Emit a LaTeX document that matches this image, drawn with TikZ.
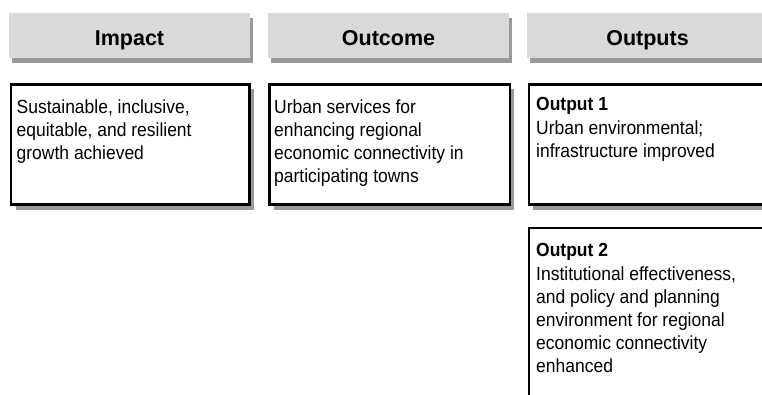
\documentclass[tikz,border=0pt]{standalone}
\usepackage{fontspec}
\setmainfont{Liberation Sans}
\newfontfamily\narrowsf[FakeStretch=0.92]{Liberation Sans}
\usetikzlibrary{shadows}
\definecolor{hdrgray}{HTML}{D9D9D9}

\begin{document}
\begin{tikzpicture}[x=1pt, y=-1pt,
    hdr/.style={fill=hdrgray, inner sep=0pt, outer sep=0pt, anchor=north west,
        minimum width=241pt, minimum height=45pt,
        drop shadow={shadow xshift=3pt, shadow yshift=-4.5pt, fill=black!40, opacity=1}},
    hdrlabel/.style={anchor=base, inner sep=0pt, font=\fontsize{21.5}{25}\selectfont\bfseries},
    cbox/.style={draw, line width=2.5pt, fill=white, inner sep=0pt, outer sep=0pt, anchor=north west,
        drop shadow={shadow xshift=4.5pt, shadow yshift=-5pt, fill=black!40, opacity=1}},
    ctext/.style={anchor=north west, inner sep=0pt, align=left,
        font=\narrowsf\fontsize{19}{23}\selectfont}]
    \useasboundingbox (0,0) rectangle (762,394);
    \clip (0,0) rectangle (762,394);

    % column heads
    \node[hdr] (impacthdr) at (9,13) {};
    \node[hdr] (outcomehdr) at (268,13) {};
    \node[hdr] (outputshdr) at (527,13) {};
    \node[hdrlabel] (impactlbl) at ([yshift=-9.5pt]impacthdr.center) {Impact};
    \node[hdrlabel] (outcomelbl) at ([yshift=-9.5pt]outcomehdr.center) {Outcome};
    \node[hdrlabel] (outputslbl) at ([yshift=-9.5pt]outputshdr.center) {Outputs};

    % boxes
    \node[cbox, minimum width=238.5pt, minimum height=120.2pt] (impactbox) at (11,84.3) {};
    \node[cbox, minimum width=240.3pt, minimum height=120.2pt] (outcomebox) at (269.5,84.3) {};
    \node[cbox, minimum width=240pt, minimum height=120.2pt] (outonebox) at (528.8,84.3) {};
    \node[cbox, minimum width=240pt, minimum height=200pt] (outtwobox) at (528.8,227.8) {};

    \node[ctext] (impacttxt) at (16.5,97.2)
        {\strut Sustainable, inclusive,\\ equitable, and resilient\\ growth achieved};
    \node[ctext] (outcometxt) at (274,97.2)
        {\strut Urban services for\\ enhancing regional\\ economic connectivity in\\ participating towns};
    \node[ctext] (outonetxt) at (536,93.9)
        {\strut\textbf{Output 1}\\[1.5pt] Urban environmental;\\ infrastructure improved};
    \node[ctext] (outtwotxt) at (536,239.9)
        {\strut\textbf{Output 2}\\[1.5pt] Institutional effectiveness,\\ and policy and planning\\
         environment for regional\\ economic connectivity\\ enhanced};
\end{tikzpicture}
\end{document}
